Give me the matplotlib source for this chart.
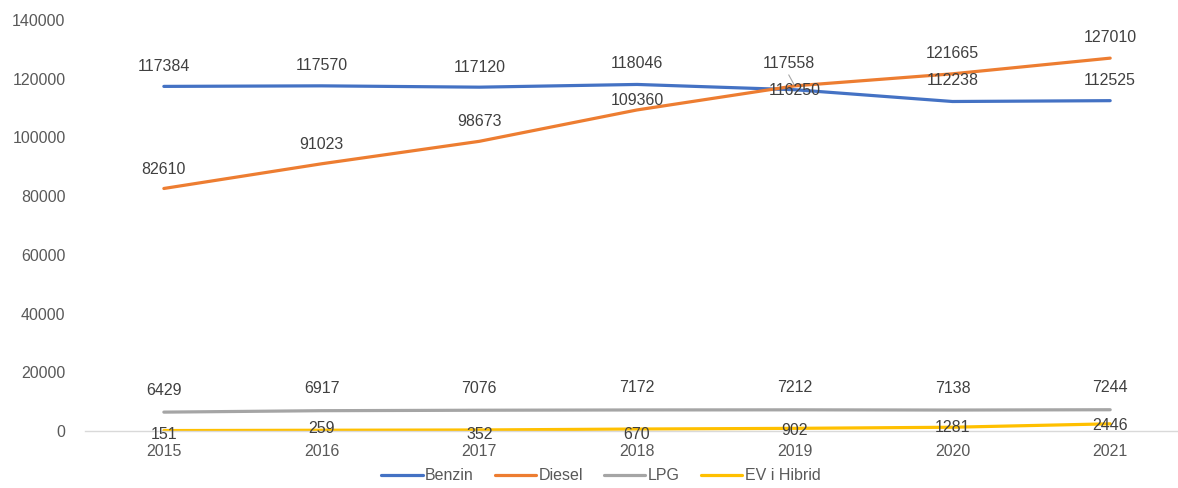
import matplotlib.pyplot as plt

plt.rcParams['font.family'] = ['Liberation Sans', 'DejaVu Sans']

# podaci
years = ['2015', '2016', '2017', '2018', '2019', '2020', '2021']
benzin = [117384, 117570, 117120, 118046, 116250, 112238, 112525]
diesel = [82610, 91023, 98673, 109360, 117558, 121665, 127010]
lpg = [6429, 6917, 7076, 7172, 7212, 7138, 7244]
ev_hibrid = [151, 259, 352, 670, 902, 1281, 2446]

# pomaci oznaka (px) - rucno procijenjeno sa slike
benzin_off = [(0, 20), (0, 20), (0, 20), (0, 21), (0, -1), (0, 21), (0, 20)]
diesel_off = [(0, 19), (0, 19), (0, 20), (0, 9), (-6, 22), (0, 20), (0, 21)]
lpg_off = [(0, 22)] * 7
ev_off = [(0, -4), (0, 2), (0, -5), (0, -5), (0, -2), (0, 0), (0, -2)]

fig = plt.figure(figsize=(11.78, 4.88), dpi=100)
ax = fig.add_axes([85 / 1178, 57 / 488, 1 - 85 / 1178, 411 / 488])

x = list(range(len(years)))
series = [
    ('Benzin', benzin, '#4472C4', benzin_off),
    ('Diesel', diesel, '#ED7D31', diesel_off),
    ('LPG', lpg, '#A5A5A5', lpg_off),
    ('EV i Hibrid', ev_hibrid, '#FFC000', ev_off),
]

for name, vals, col, offs in series:
    ax.plot(x, vals, color=col, lw=2.3, label=name, solid_capstyle='round')
    for xi, v, o in zip(x, vals, offs):
        ax.annotate(str(v), (xi, v), xytext=o, textcoords='offset pixels',
                    ha='center', va='center', fontsize=11.5, color='#404040')

# vodilica za oznaku 2019 Diesel
ax.annotate('', (4, diesel[4]), xytext=(-6, 11), textcoords='offset pixels',
            arrowprops=dict(arrowstyle='-', color='#A5A5A5', lw=0.8,
                            shrinkA=0, shrinkB=1))

ax.set_xlim(-0.5, 6.43)
ax.set_ylim(0, 140000)
ax.set_yticks(range(0, 140001, 20000))
ax.set_xticks(x)
ax.set_xticklabels(years)
ax.tick_params(axis='both', length=0, labelsize=11.5, colors='#595959')
ax.tick_params(axis='x', pad=9)
ax.tick_params(axis='y', pad=14)

for s in ['top', 'right', 'left']:
    ax.spines[s].set_visible(False)
ax.spines['bottom'].set_color('#D9D9D9')
ax.spines['bottom'].set_linewidth(1)

leg = fig.legend(loc='lower center', bbox_to_anchor=(0.51, -0.02), ncol=4,
                 frameon=False, fontsize=11.5, handlelength=2.6, columnspacing=1.3,
                 handletextpad=0.15)
for t in leg.get_texts():
    t.set_color('#595959')

fig.savefig('out.png', dpi=100)
